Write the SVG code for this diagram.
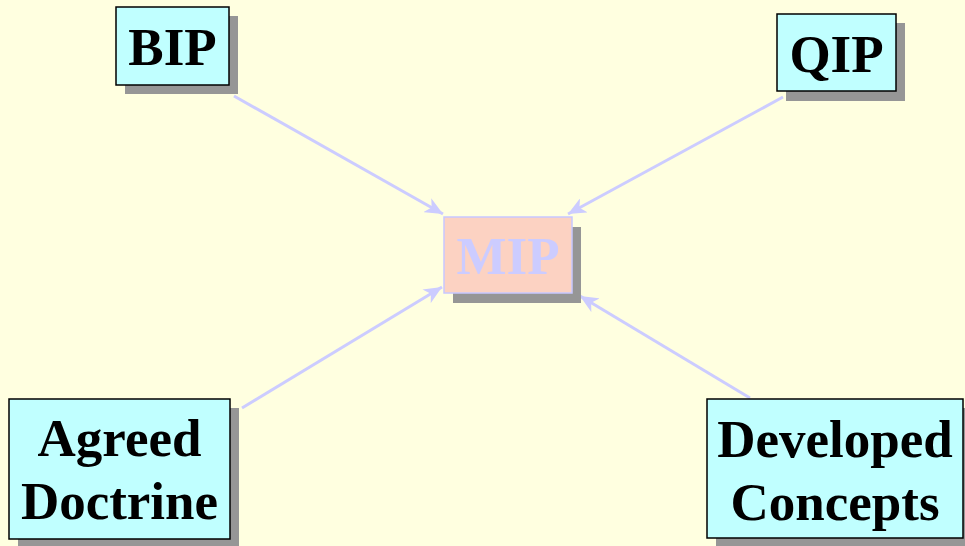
<svg xmlns="http://www.w3.org/2000/svg" width="965" height="546" viewBox="0 0 965 546">
<defs>
<style>
.bg{fill:#FFFFE0}
.shadow{fill:#969696}
.box{fill:#C0FFFF;stroke:#000;stroke-width:1.5}
.mip{fill:#FCD2C2;stroke:#C8C8FF;stroke-width:1.5}
.t{font-family:"Liberation Serif","Times New Roman",serif;font-weight:bold;font-size:53px;fill:#000;text-anchor:middle}
.tm{fill:#CCCCFF}
.conn{stroke:#CCCCFF;stroke-width:3;fill:none;marker-end:url(#ah)}
</style>
<marker id="ah" markerUnits="userSpaceOnUse" markerWidth="20" markerHeight="16" refX="18" refY="8" orient="auto">
<path d="M0,0 L18,8 L0,16 L5,8 z" fill="#CCCCFF"/>
</marker>
</defs>
<rect class="bg" x="0" y="0" width="965" height="546"/>
<g id="connectors">
<line class="conn" x1="234" y1="96" x2="443" y2="214"/>
<line class="conn" x1="783" y1="97" x2="568" y2="214"/>
<line class="conn" x1="242" y1="408" x2="442" y2="287"/>
<line class="conn" x1="750" y1="398" x2="580" y2="296"/>
</g>
<g id="bip">
<rect class="shadow" x="125" y="16" width="113" height="78"/>
<rect class="box" x="116" y="7" width="113" height="78"/>
<text class="t" x="172.5" y="65">BIP</text>
</g>
<g id="qip">
<rect class="shadow" x="786" y="23" width="119" height="78"/>
<rect class="box" x="777" y="14" width="119" height="77"/>
<text class="t" x="836.5" y="72">QIP</text>
</g>
<g id="mip">
<rect class="shadow" x="453" y="227" width="128" height="76"/>
<rect class="mip" x="444" y="217" width="128" height="76"/>
<text class="t tm" x="508" y="274">MIP</text>
</g>
<g id="agreed-doctrine">
<rect class="shadow" x="18" y="408" width="221" height="140"/>
<rect class="box" x="9" y="399" width="221" height="140"/>
<text class="t" x="119.5" y="456">Agreed</text>
<text class="t" x="119.5" y="519">Doctrine</text>
</g>
<g id="developed-concepts">
<rect class="shadow" x="716" y="408" width="256" height="140"/>
<rect class="box" x="707" y="399" width="256" height="139"/>
<text class="t" x="835" y="457">Developed</text>
<text class="t" x="835" y="520">Concepts</text>
</g>
</svg>
